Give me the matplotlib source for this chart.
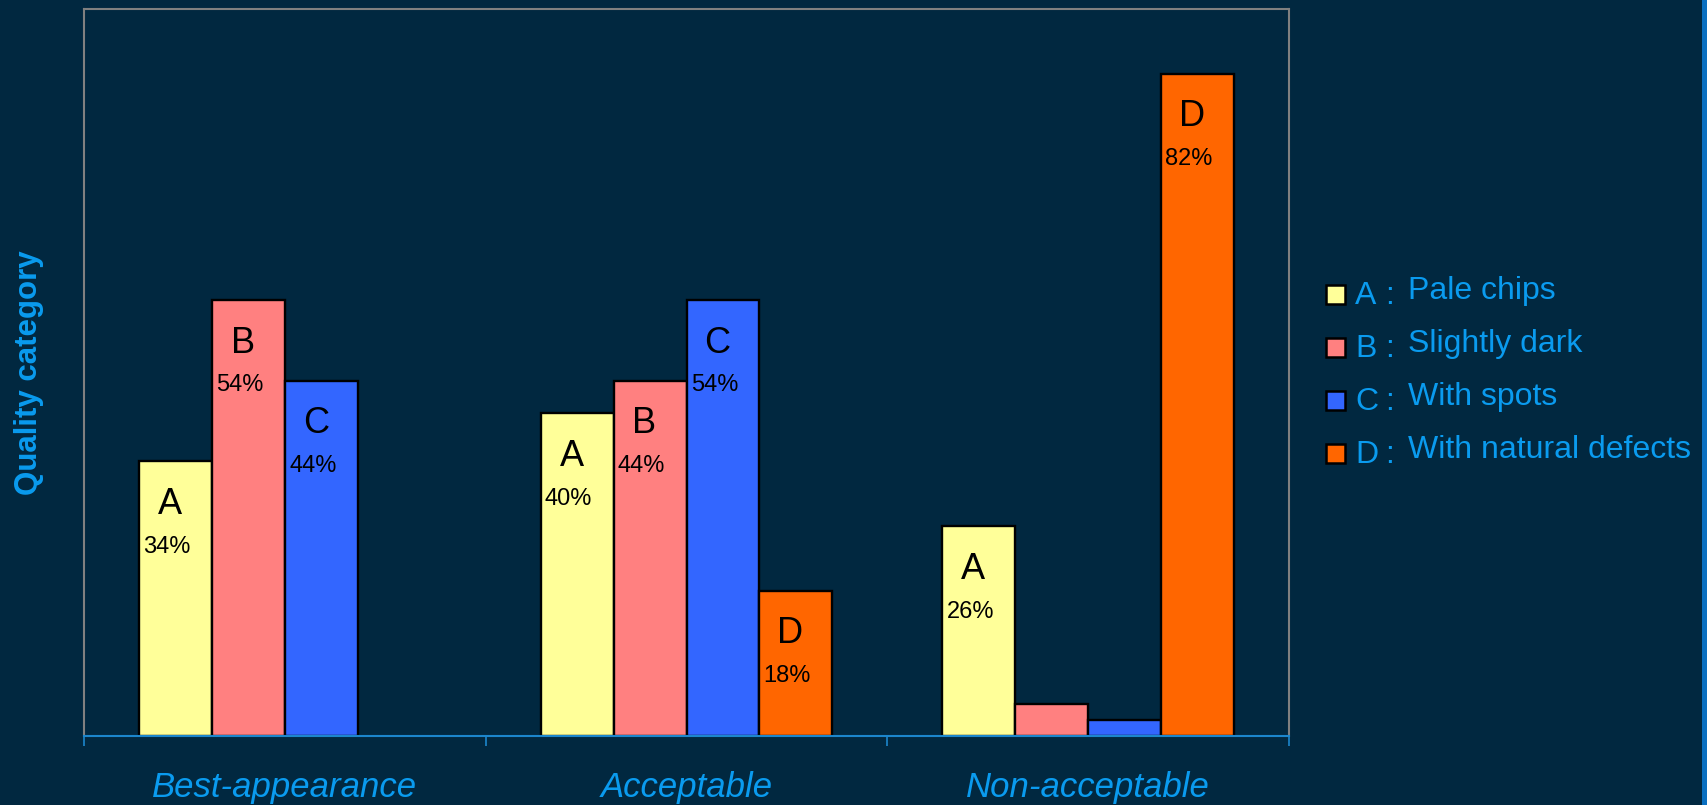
import matplotlib
matplotlib.use("Agg")
import matplotlib.pyplot as plt
import numpy as np
from matplotlib import font_manager
from matplotlib.patches import Rectangle

# quality categories and the four chip types
categories = ['Best-appearance', 'Acceptable', 'Non-acceptable']
letters = ['A', 'B', 'C', 'D']
names = ['Pale chips', 'Slightly dark', 'With spots', 'With natural defects']

# share of each chip type (%) per quality category
pct_A = [34, 40, 26]
pct_B = [54, 44, 4]
pct_C = [44, 54, 2]
pct_D = [0, 18, 82]
series = [pct_A, pct_B, pct_C, pct_D]

colors = ['#FFFF99', '#FF8080', '#3366FF', '#FF6600']
bg = '#012840'
txt_blue = '#0A9BEF'
axis_blue = '#1C86CC'

W, H = 1707, 805
fig = plt.figure(figsize=(W / 100, H / 100), dpi=100, facecolor=bg)
ax = fig.add_axes([84 / W, 1 - 736 / H, (1289 - 84) / W, (736 - 9) / H])
ax.set_facecolor(bg)

plt.rcParams['font.family'] = ['Liberation Sans', 'DejaVu Sans']

# narrow face for the category names, if it exists
try:
    font_manager.findfont('Liberation Sans Narrow', fallback_to_default=False)
    cat_family = 'Liberation Sans Narrow'
    cat_size = 30
except Exception:
    cat_family = 'Liberation Sans'
    cat_size = 25

x = np.arange(len(categories))
width = 0.1816
for i, vals in enumerate(series):
    vals = np.array(vals, dtype=float)
    heights = np.where(vals > 0, vals, np.nan)
    xs = x + (i - 1.5) * width
    ax.bar(xs, heights, width=width, color=colors[i], edgecolor='black',
           linewidth=1.7, zorder=3)
    for xi, v in zip(xs, vals):
        if v < 10:
            continue
        ax.annotate(letters[i], (xi, v), xytext=(-4, -38), textcoords='offset points',
                    ha='center', va='baseline', fontsize=26, color='black', zorder=4)
        ax.annotate(f'{int(v)}%', (xi - width / 2, v), xytext=(3, -66),
                    textcoords='offset points', ha='left', va='baseline',
                    fontsize=17, color='black', zorder=4)

ax.set_xlim(-0.5, 2.5)
ax.set_ylim(0, 90)
ax.set_yticks([])

# boundary ticks below the axis, names centred under each group
ax.set_xticks([-0.5, 0.5, 1.5, 2.5])
ax.set_xticklabels([])
ax.tick_params(axis='x', which='major', direction='out', length=7.5, width=1.2,
               color=axis_blue)
ax.set_xticks(x, minor=True)
ax.set_xticklabels(categories, minor=True, fontsize=cat_size, style='italic',
                   color=txt_blue, family=cat_family)
ax.tick_params(axis='x', which='minor', length=0, pad=25)

for side in ['left', 'top', 'right']:
    ax.spines[side].set_color('#808080')
    ax.spines[side].set_linewidth(1.5)
ax.spines['bottom'].set_color(axis_blue)
ax.spines['bottom'].set_linewidth(1.5)
ax.spines['bottom'].set_zorder(5)

fig.text(29 / W, 1 - 373 / H, 'Quality category', rotation=90, ha='center',
         va='center', fontsize=22.5, fontweight='bold', color=txt_blue)

# legend key on the right
for i in range(4):
    y0 = 304 + i * 53
    fig.add_artist(Rectangle((1326 / W, 1 - y0 / H), 19 / W, 19 / H,
                             transform=fig.transFigure, facecolor=colors[i],
                             edgecolor='black', linewidth=1.8))
    fig.text(1355 / W, 1 - y0 / H, letters[i], ha='left', va='baseline',
             fontsize=23, color=txt_blue)
    fig.text(1385 / W, 1 - y0 / H, ':', ha='left', va='baseline',
             fontsize=23, color=txt_blue)
    fig.text(1408 / W, 1 - (y0 - 5) / H, names[i], ha='left', va='baseline',
             fontsize=23, color=txt_blue)

# thin blue strip along the right edge
fig.add_artist(Rectangle((1702 / W, 0), 5 / W, 1, transform=fig.transFigure,
                         facecolor='#0A6FC0', edgecolor='none'))

fig.savefig('out.png', dpi=100, facecolor=bg)
